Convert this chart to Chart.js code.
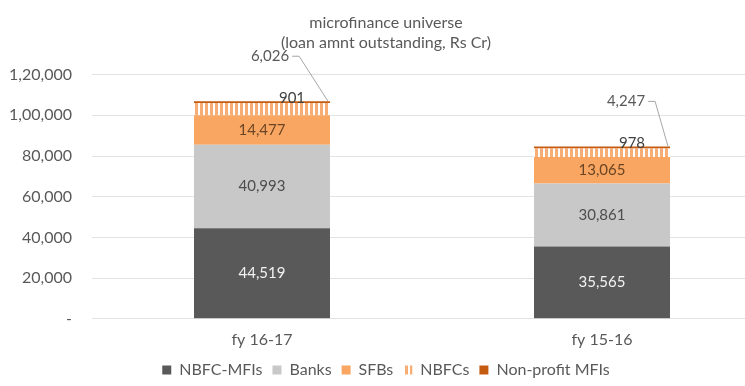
<!DOCTYPE html>
<html>
<head>
<meta charset="utf-8">
<script src="https://cdn.jsdelivr.net/npm/chart.js@4.4.1/dist/chart.umd.min.js"></script>
<style>
  body { margin: 0; overflow: hidden; background: #fff; }
  #wrap { width: 780px; height: 386px; }
</style>
</head>
<body>
<div id="wrap"><canvas id="chart"></canvas></div>
<script>
// data (Rs Cr)
const categories = ['fy 16-17', 'fy 15-16'];
const nbfcMfis = [44519, 35565];
const banks = [40993, 30861];
const sfbs = [14477, 13065];
const nbfcs = [6026, 4247];
const nonProfit = [901, 978];
const yTicks = [0, 20000, 40000, 60000, 80000, 100000, 120000];

const FONT = 'Lato, "Open Sans", sans-serif';
const GREY = '#595959';

// indian grouping: 1,20,000
function inr(v) {
  if (v === 0) return '-';
  const s = String(Math.round(v));
  if (s.length <= 3) return s;
  let last = s.slice(-3), rest = s.slice(0, -3);
  rest = rest.replace(/\B(?=(\d{2})+(?!\d))/g, ',');
  return rest + ',' + last;
}

function hatch() {
  const p = document.createElement('canvas');
  p.width = 5; p.height = 5;
  const g = p.getContext('2d');
  g.fillStyle = '#ffffff';
  g.fillRect(0, 0, 5, 5);
  g.fillStyle = '#f8ad74';
  g.fillRect(0, 0, 3, 5);
  return g.createPattern(p, 'repeat');
}

// data labels, drawn by hand (no datalabels plugin here)
const labelPlugin = {
  id: 'segLabels',
  afterDatasetsDraw(chart) {
    const ctx = chart.ctx;
    ctx.save();
    ctx.font = '15px ' + FONT;
    ctx.textBaseline = 'middle';
    ctx.textAlign = 'center';
    const inside = [
      { ds: 0, color: '#f2f2f2' },
      { ds: 1, color: '#4d4d4d' },
      { ds: 2, color: '#6b4423' }
    ];
    inside.forEach(o => {
      chart.getDatasetMeta(o.ds).data.forEach((el, i) => {
        ctx.fillStyle = o.color;
        ctx.fillText(inr(chart.data.datasets[o.ds].data[i]), el.x, (el.y + el.base) / 2);
      });
    });
    // non-profit label, sits on top edge
    const topMeta = chart.getDatasetMeta(4);
    topMeta.data.forEach((el, i) => {
      ctx.fillStyle = '#404040';
      ctx.fillText(inr(nonProfit[i]), el.x + 30, el.y - 3);
    });
    // NBFCs label with callout line
    const nb = chart.getDatasetMeta(3);
    nb.data.forEach((el, i) => {
      const top = topMeta.data[i].y;
      const half = el.width / 2;
      const lx = el.x + (i === 0 ? 8 : 24);
      const ly = top - 45;
      ctx.fillStyle = GREY;
      ctx.fillText(inr(nbfcs[i]), lx, ly);
      const w = ctx.measureText(inr(nbfcs[i])).width;
      ctx.strokeStyle = '#a6a6a6';
      ctx.lineWidth = 1;
      ctx.beginPath();
      ctx.moveTo(lx + w / 2 + 3, ly);
      ctx.lineTo(lx + w / 2 + 10, ly);
      ctx.lineTo(el.x + half - 2, top);
      ctx.stroke();
    });
    ctx.restore();
  }
};

const ctx = document.getElementById('chart').getContext('2d');
new Chart(ctx, {
  type: 'bar',
  data: {
    labels: categories,
    datasets: [
      { label: 'NBFC-MFIs', data: nbfcMfis, backgroundColor: '#595959' },
      { label: 'Banks', data: banks, backgroundColor: '#c8c8c8' },
      { label: 'SFBs', data: sfbs, backgroundColor: '#f8a662' },
      { label: 'NBFCs', data: nbfcs, backgroundColor: hatch() },
      { label: 'Non-profit MFIs', data: nonProfit, backgroundColor: '#c55a11' }
    ]
  },
  options: {
    responsive: true,
    maintainAspectRatio: false,
    animation: false,
    layout: { padding: { left: 0, right: 8, top: 0, bottom: -2 } },
    datasets: { bar: { categoryPercentage: 1, barPercentage: 0.4 } },
    plugins: {
      title: {
        display: true,
        text: ['microfinance universe', '(loan amnt outstanding, Rs Cr)'],
        color: GREY,
        font: { family: FONT, size: 16, weight: 'normal', lineHeight: 1.3 },
        padding: { top: 12, bottom: 21 }
      },
      legend: {
        position: 'bottom',
        labels: {
          color: GREY,
          font: { family: FONT, size: 16 },
          boxWidth: 9,
          boxHeight: 9,
          padding: 10
        }
      },
      tooltip: { enabled: false }
    },
    scales: {
      x: {
        stacked: true,
        grid: { display: false },
        border: { display: false },
        ticks: { color: GREY, font: { family: FONT, size: 16 }, padding: 3 }
      },
      y: {
        stacked: true,
        min: 0,
        max: 120000,
        afterBuildTicks(s) { s.ticks = yTicks.map(v => ({ value: v })); },
        afterFit(s) { s.width = 92; },
        grid: { color: '#e3e3e3', drawTicks: false },
        border: { display: false },
        ticks: {
          color: GREY,
          font: { family: FONT, size: 16 },
          padding: 20,
          callback: v => inr(v)
        }
      }
    }
  },
  plugins: [labelPlugin]
});
</script>
</body>
</html>
